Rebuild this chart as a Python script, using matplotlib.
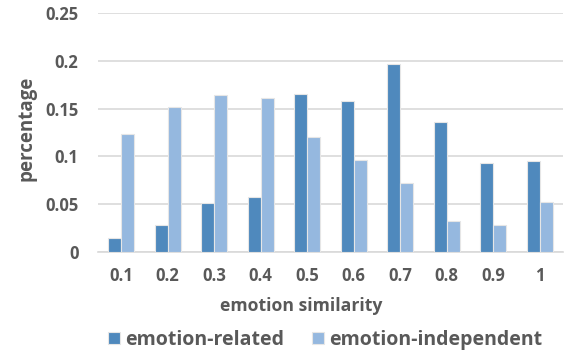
import numpy as np
import matplotlib.pyplot as plt

# emotion similarity bins and share of samples in each
categories = ['0.1', '0.2', '0.3', '0.4', '0.5', '0.6', '0.7', '0.8', '0.9', '1']
related = [0.015, 0.028, 0.051, 0.058, 0.165, 0.158, 0.197, 0.136, 0.093, 0.095]
independent = [0.123, 0.152, 0.164, 0.161, 0.120, 0.096, 0.072, 0.033, 0.028, 0.052]

plt.rcParams['font.family'] = ['Open Sans', 'DejaVu Sans']
txt = '#595959'

fig = plt.figure(figsize=(5.72, 3.54), dpi=100)
ax = fig.add_axes([0.1713, 0.288, 0.813, 0.675])

x = np.arange(len(categories))
w = 0.28
ax.bar(x - w / 2, related, w, color='#4F89BD', edgecolor='#E6E6E6', linewidth=0.8,
       label='emotion-related', zorder=3)
ax.bar(x + w / 2, independent, w, color='#95B8DF', edgecolor='#E6E6E6', linewidth=0.8,
       label='emotion-independent', zorder=3)

ax.set_xlim(-0.5, len(categories) - 0.5)
ax.set_ylim(0, 0.25)
ax.set_yticks([0, 0.05, 0.1, 0.15, 0.2, 0.25])
ax.set_yticklabels(['0', '0.05', '0.1', '0.15', '0.2', '0.25'])
ax.set_xticks(x)
ax.set_xticklabels(categories)
ax.yaxis.grid(True, color='#D9D9D9', linewidth=1.2, zorder=0)
for s in ['top', 'right', 'left']:
    ax.spines[s].set_visible(False)
ax.spines['bottom'].set_color('#D9D9D9')
ax.spines['bottom'].set_linewidth(1.2)
ax.tick_params(length=0, labelsize=12, labelcolor=txt)
ax.tick_params(axis='y', pad=14)
ax.tick_params(axis='x', pad=11)
for lbl in ax.get_xticklabels() + ax.get_yticklabels():
    lbl.set_fontweight('bold')

# axis titles placed like the Excel original (centred on the chart, not the plot)
fig.text(301 / 572, 1 - 306 / 354, 'emotion similarity', fontsize=12.7, fontweight='bold',
         color=txt, ha='center', va='center')
fig.text(26 / 572, 1 - 128 / 354, 'percentage', fontsize=13.5, fontweight='bold',
         color=txt, ha='center', va='center', rotation=90)

fig.legend(loc='center', bbox_to_anchor=(325 / 572, 1 - 340 / 354), ncol=2, frameon=False,
           handlelength=0.62, handleheight=0.62, handletextpad=0.26,
           columnspacing=1.44, prop={'weight': 'bold', 'size': 14},
           labelcolor=txt, borderpad=0, borderaxespad=0)

plt.savefig('out.png', dpi=100, facecolor='w')
